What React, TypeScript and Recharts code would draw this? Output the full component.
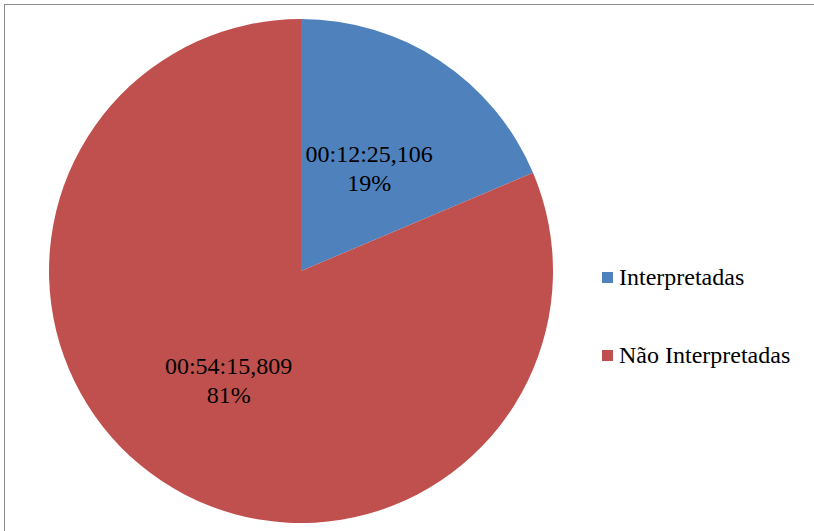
import React from 'react';
import { PieChart, Pie, Cell } from 'recharts';

const categories = ['Interpretadas', 'Não Interpretadas'];
const durations = ['00:12:25,106', '00:54:15,809'];
// durations in seconds
const seconds = [745.106, 3255.809];
const colors = ['#4F81BD', '#C0504D'];

const data = categories.map((name, i) => ({
  name,
  value: seconds[i],
  duration: durations[i],
}));
const total = seconds.reduce((a, b) => a + b, 0);

const FONT = '"Liberation Serif", "Times New Roman", serif';
const RADIAN = Math.PI / 180;
// how far out (fraction of the radius) each label sits
const labelRatio = [0.49, 0.52];

const renderLabel = (props: any) => {
  const { cx, cy, midAngle, outerRadius, index } = props;
  const r = outerRadius * labelRatio[index];
  const x = cx + r * Math.cos(-midAngle * RADIAN);
  const y = cy + r * Math.sin(-midAngle * RADIAN);
  const pct = Math.round((seconds[index] / total) * 100);
  return (
    <text x={x} y={y} textAnchor="middle" fill="#000" fontFamily={FONT} fontSize={24}>
      <tspan x={x} dy={-6}>{durations[index]}</tspan>
      <tspan x={x} dy={29}>{`${pct}%`}</tspan>
    </text>
  );
};

export default function App() {
  return (
    <div style={{ position: 'absolute', left: 0, top: 0, width: 814, height: 531, overflow: 'hidden', background: '#fff' }}>
      <div
        style={{
          position: 'absolute',
          left: 4,
          top: 4,
          width: 830,
          height: 560,
          border: '1px solid #8c8c8c',
        }}
      />
      <div style={{ position: 'absolute', left: 0, top: 0 }}>
        <PieChart width={814} height={531} margin={{ top: 0, right: 0, bottom: 0, left: 0 }}>
          <Pie
            data={data}
            dataKey="value"
            cx={301}
            cy={271}
            outerRadius={252}
            startAngle={90}
            endAngle={-270}
            stroke="none"
            label={renderLabel}
            labelLine={false}
            isAnimationActive={false}
          >
            {data.map((d, i) => (
              <Cell key={d.name} fill={colors[i]} />
            ))}
          </Pie>
        </PieChart>
      </div>
      {categories.map((name, i) => (
        <div
          key={name}
          style={{
            position: 'absolute',
            left: 602,
            top: 264 + i * 78,
            display: 'flex',
            alignItems: 'center',
            fontFamily: FONT,
            fontSize: 24,
            color: '#000',
            whiteSpace: 'nowrap',
          }}
        >
          <span style={{ display: 'inline-block', width: 11, height: 11, background: colors[i], marginRight: 6 }} />
          {name}
        </div>
      ))}
    </div>
  );
}
